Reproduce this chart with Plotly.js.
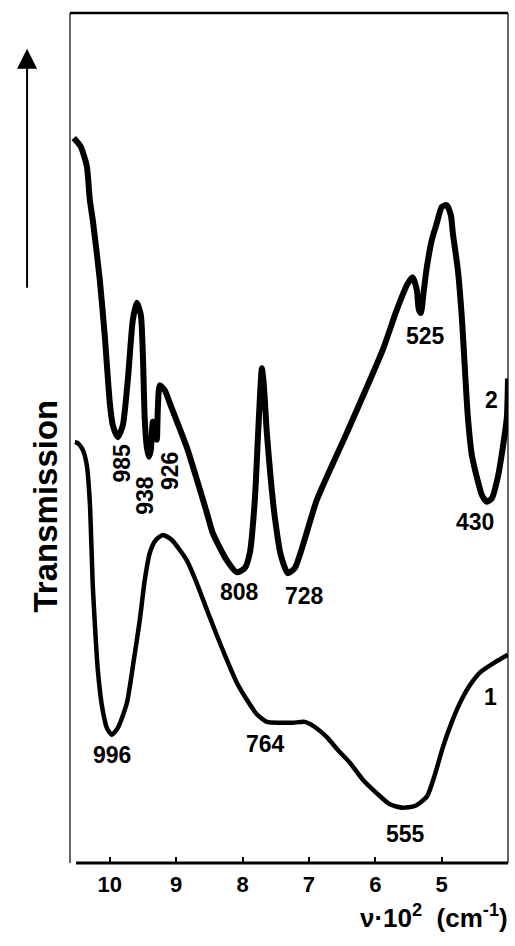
<!DOCTYPE html>
<html>
<head>
<meta charset="utf-8">
<script src="https://cdn.plot.ly/plotly-3.0.1.min.js"></script>
<style>html,body{margin:0;padding:0;background:#fff;}#chart{width:515px;height:946px;}</style>
</head>
<body>
<div id="chart"></div>
<script>
// Wavenumber (x 10^2 cm^-1) and relative transmission (arbitrary units)
const wn2 = [10.543,10.440,10.347,10.301,10.256,10.151,10.075,10.0,9.955,9.879,9.804,9.729,9.653,9.593,9.533,9.503,9.473,9.442,9.412,9.382,9.352,9.322,9.292,9.277,9.247,9.171,9.096,8.840,8.538,8.448,8.237,8.086,7.966,7.890,7.815,7.770,7.740,7.709,7.679,7.634,7.574,7.514,7.423,7.318,7.212,6.881,6.429,5.886,5.675,5.509,5.434,5.374,5.344,5.313,5.268,5.223,5.148,5.072,4.997,4.922,4.861,4.831,4.756,4.696,4.605,4.545,4.470,4.394,4.319,4.244,4.153,4.078,4.017,4.0];
const tr2 = [85.3,84.3,82.0,78.0,75.6,68.6,61.9,54.1,51.5,50.1,51.5,56.8,63.9,65.9,64.5,60.0,52.1,48.9,47.8,48.6,51.9,50.9,49.8,53.3,56.2,55.6,54.1,48.9,41.2,38.8,35.6,34.2,34.7,36.5,42.7,49.8,54.5,58.2,56.2,50.6,45.1,40.7,36.2,34.1,34.7,42.7,50.6,60.4,65.1,68.2,68.9,67.4,65.1,64.7,67.4,70.1,73.3,75.3,77.2,77.4,76.2,74.1,69.8,64.2,52.5,48.0,45.4,43.3,42.5,42.9,45.4,48.9,52.5,57.0];

const wn1 = [10.527,10.482,10.407,10.347,10.301,10.256,10.211,10.181,10.121,10.045,9.970,9.879,9.744,9.638,9.548,9.473,9.397,9.307,9.201,9.066,8.840,8.689,8.538,8.388,8.237,8.086,7.935,7.785,7.634,7.438,7.242,7.061,6.911,6.730,6.564,6.383,6.187,5.976,5.781,5.585,5.404,5.223,5.102,4.982,4.846,4.726,4.575,4.424,4.198,4.0];
const tr1 = [49.5,49.4,48.6,46.8,42.4,32.5,26.2,22.7,18.6,15.9,15.1,15.9,18.8,23.9,28.6,33.3,36.5,38.0,38.6,38.0,35.6,32.9,29.8,26.8,23.9,21.2,19.2,17.5,16.6,16.5,16.5,16.6,16.0,14.8,13.3,11.8,9.8,8.2,6.9,6.5,6.7,7.8,10.4,13.6,16.6,18.8,20.9,22.4,23.6,24.5];

const tickVals = [10,9,8,7,6,5];
const tickText = ['10','9','8','7','6','5'];

// Peak labels: [text, x, y, angle]
const peakLabels = [
  ['985', 9.819, 47.1, -90],
  ['938', 9.473, 43.3, -90],
  ['926', 9.096, 46.1, -90],
  ['808', 8.041, 31.9, 0],
  ['728', 7.061, 31.4, 0],
  ['525', 5.238, 62.0, 0],
  ['430', 4.500, 40.1, 0],
  ['2', 4.244, 54.5, 0],
  ['996', 9.970, 12.7, 0],
  ['764', 7.649, 14.0, 0],
  ['555', 5.540, 3.4, 0],
  ['1', 4.259, 19.5, 0]
];

const FONT = 'Liberation Sans, Arial, Helvetica, sans-serif';

const traces = [
  {x: wn2, y: tr2, mode: 'lines', line: {color: '#000', width: 6, shape: 'spline', smoothing: 0.6}, hoverinfo: 'skip'},
  {x: wn1, y: tr1, mode: 'lines', line: {color: '#000', width: 4.5, shape: 'spline', smoothing: 0.6}, hoverinfo: 'skip'}
];

const annotations = peakLabels.map(p => ({
  text: p[0], x: p[1], y: p[2], xref: 'x', yref: 'y', showarrow: false,
  textangle: p[3], font: {family: FONT, size: 23, color: '#000', weight: 'bold'}
}));

annotations.push({
  text: 'Transmission', xref: 'paper', yref: 'paper', x: -0.105, y: 0.42,
  textangle: -90, showarrow: false, font: {family: FONT, size: 33, color: '#000', weight: 'bold'}
});
annotations.push({
  text: 'ν·10<sup>2</sup>  (cm<sup>-1</sup>)', xref: 'paper', yref: 'paper', x: 1.005, y: -0.0635,
  xanchor: 'right', yanchor: 'middle', showarrow: false,
  font: {family: FONT, size: 26, color: '#000', weight: 'bold'}
});
annotations.push({
  text: ' ', xref: 'paper', yref: 'paper', x: -0.098, y: 0.958,
  showarrow: true, ax: 0, ay: 249, arrowhead: 2, arrowsize: 2, arrowwidth: 2, arrowcolor: '#000'
});

const shapes = [
  {type: 'line', xref: 'paper', yref: 'paper', x0: 0, x1: 1, y0: 1, y1: 1, line: {color: '#000', width: 2.5}},
  {type: 'line', xref: 'paper', yref: 'paper', x0: 0, x1: 0, y0: 0, y1: 1, line: {color: '#000', width: 1.2}},
  {type: 'line', xref: 'paper', yref: 'paper', x0: 1, x1: 1, y0: 0, y1: 1, line: {color: '#000', width: 1.2}},
  {type: 'line', xref: 'paper', yref: 'paper', x0: 0.014, x1: 1, y0: 0, y1: 0, line: {color: '#000', width: 3}}
];

const layout = {
  width: 515, height: 946,
  margin: {l: 70, r: 7, t: 13, b: 83},
  paper_bgcolor: '#fff', plot_bgcolor: '#fff',
  showlegend: false,
  xaxis: {
    range: [10.6, 4.0], showgrid: false, zeroline: false, showline: false,
    tickmode: 'array', tickvals: tickVals, ticktext: tickText,
    ticks: 'inside', ticklen: 6, tickwidth: 2, tickcolor: '#000',
    tickfont: {family: FONT, size: 22, color: '#000', weight: 'bold'},
    ticklabelstandoff: 6
  },
  yaxis: {
    range: [0, 100], showgrid: false, zeroline: false, showline: false,
    showticklabels: false, ticks: ''
  },
  annotations: annotations,
  shapes: shapes
};

Plotly.newPlot('chart', traces, layout, {staticPlot: true});
</script>
</body>
</html>
